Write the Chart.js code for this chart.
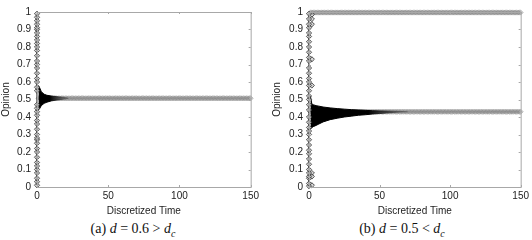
<!DOCTYPE html>
<html>
<head>
<meta charset="utf-8">
<script src="https://cdn.jsdelivr.net/npm/chart.js@4/dist/chart.umd.min.js"></script>
<style>
  body { margin: 0; background: #fff; }
  #wrap { position: relative; width: 532px; height: 240px; overflow: hidden; }
  canvas { position: absolute; top: 0; }
  .cap { position: absolute; top: 221px; width: 266px; text-align: center;
         font-family: "Liberation Serif", "DejaVu Serif", serif; font-size: 14px; line-height: 15px; color: #111; }
  .cap sub { font-size: 10px; font-style: italic; }
</style>
</head>
<body>
<div id="wrap">
  <canvas id="chartA" width="262" height="218" style="left:0"></canvas>
  <canvas id="chartB" width="261" height="218" style="left:271px"></canvas>
  <div class="cap" style="left:0">(a) <i>d</i> = 0.6 &gt; <i>d</i><sub>c</sub></div>
  <div class="cap" style="left:269px">(b) <i>d</i> = 0.5 &lt; <i>d</i><sub>c</sub></div>
</div>
<script>
// time axis 0..150
const times = Array.from({ length: 151 }, (_, i) => i);
const xTicks = [0, 50, 100, 150];
const yTicks = [0, 0.1, 0.2, 0.3, 0.4, 0.5, 0.6, 0.7, 0.8, 0.9, 1];

// (a) d = 0.6 > dc
const leftInit = [0.01, 0.03, 0.05, 0.08, 0.1, 0.12, 0.14, 0.17, 0.2, 0.22, 0.25, 0.27, 0.28, 0.3, 0.33,
  0.36, 0.38, 0.41, 0.43, 0.45, 0.47, 0.55, 0.57, 0.6, 0.62, 0.65, 0.68, 0.7, 0.72, 0.75, 0.78, 0.8,
  0.82, 0.84, 0.86, 0.88, 0.9, 0.91, 0.93, 0.95, 0.97, 0.99];
const leftSteady = 0.507;
const leftBandT = [1, 2, 3, 5, 7, 10, 14, 18, 22];
const leftUpper = [0.58, 0.565, 0.545, 0.53, 0.524, 0.52, 0.516, 0.513, 0.508];
const leftLower = [0.44, 0.45, 0.465, 0.478, 0.485, 0.492, 0.497, 0.501, 0.506];

// (b) d = 0.5 < dc
const rightInit = [0.005, 0.02, 0.05, 0.06, 0.08, 0.1, 0.13, 0.16, 0.19, 0.21, 0.24, 0.27, 0.3, 0.32,
  0.34, 0.37, 0.4, 0.44, 0.47, 0.5, 0.52, 0.55, 0.58, 0.6, 0.62, 0.65, 0.68, 0.72, 0.74, 0.77, 0.8,
  0.83, 0.86, 0.88, 0.91, 0.93, 0.96, 0.99];
const rightStep2 = [0.985, 0.96, 0.93, 0.73, 0.58, 0.08, 0.06, 0.01];
const rightSteady = 0.43;
const rightTop = 0.997;
const rightBandT = [1, 2, 3, 5, 7, 10, 15, 20, 25, 30, 35, 40, 45, 50, 55, 60, 65, 70];
const rightUpper = [0.52, 0.475, 0.47, 0.465, 0.462, 0.457, 0.452, 0.448, 0.445, 0.442, 0.44, 0.438, 0.436, 0.435, 0.434, 0.433, 0.432, 0.43];
const rightLower = [0.33, 0.34, 0.345, 0.352, 0.36, 0.372, 0.385, 0.393, 0.4, 0.405, 0.41, 0.413, 0.417, 0.42, 0.423, 0.426, 0.428, 0.43];

const FONT = "'Liberation Sans', Arial, sans-serif";

// black band fading to grey where the trajectories settle
function fade(start, end) {
  return (c) => {
    const chart = c.chart;
    if (!chart.chartArea || !chart.scales.x) return '#000';
    const x = chart.scales.x;
    const g = chart.ctx.createLinearGradient(x.getPixelForValue(start), 0, x.getPixelForValue(end), 0);
    g.addColorStop(0, 'rgba(0,0,0,1)');
    g.addColorStop(1, 'rgba(70,70,70,0.3)');
    return g;
  };
}

// MATLAB-like box with inward ticks
const boxPlugin = {
  id: 'box',
  afterDraw(chart) {
    const { ctx, chartArea: a, scales } = chart;
    ctx.save();
    ctx.strokeStyle = '#a8a8a8';
    ctx.lineWidth = 1;
    ctx.strokeRect(a.left + 0.5, a.top + 0.5, a.right - a.left, a.bottom - a.top);
    ctx.beginPath();
    yTicks.forEach(v => {
      const y = Math.round(scales.y.getPixelForValue(v)) + 0.5;
      ctx.moveTo(a.left, y); ctx.lineTo(a.left + 2, y);
      ctx.moveTo(a.right, y); ctx.lineTo(a.right - 2, y);
    });
    xTicks.forEach(v => {
      const x = Math.round(scales.x.getPixelForValue(v)) + 0.5;
      ctx.moveTo(x, a.bottom); ctx.lineTo(x, a.bottom - 2);
      ctx.moveTo(x, a.top); ctx.lineTo(x, a.top + 2);
    });
    ctx.stroke();
    ctx.restore();
  }
};

function diamonds(points, order, border, fill) {
  return {
    type: 'scatter', data: points, order,
    pointStyle: 'rectRot', pointRadius: 2.6, pointBorderWidth: 1,
    pointBorderColor: border, pointBackgroundColor: fill,
    showLine: false, clip: false
  };
}

function makeChart(id, cfg) {
  const ds = [];
  // steady clusters
  cfg.steady.forEach(v => {
    ds.push(diamonds(times.filter(t => t >= 1).map(t => ({ x: t, y: v })), 5,
      'rgba(90,90,90,0.3)', 'rgba(140,140,140,0.35)'));
  });
  // oscillating band
  ds.push({
    type: 'line', order: 3,
    data: cfg.bandT.map((t, i) => ({ x: t, y: cfg.upper[i] })),
    borderColor: fade(cfg.fadeFrom, cfg.fadeTo), borderWidth: 1,
    backgroundColor: fade(cfg.fadeFrom, cfg.fadeTo),
    fill: '+1', pointRadius: 0, tension: 0
  });
  ds.push({
    type: 'line', order: 3,
    data: cfg.bandT.map((t, i) => ({ x: t, y: cfg.lower[i] })),
    borderColor: fade(cfg.fadeFrom, cfg.fadeTo), borderWidth: 1,
    fill: false, pointRadius: 0, tension: 0
  });
  // initial opinions at t = 0 with the near vertical trajectory lines
  const init = diamonds(cfg.init.slice().sort((a, b) => a - b).map(v => ({ x: 0, y: v })), 1,
    'rgba(60,60,60,0.85)', 'rgba(190,190,190,0.6)');
  init.showLine = true;
  init.borderColor = '#333';
  init.borderWidth = 1.2;
  ds.push(init);
  if (cfg.step2) {
    ds.push(diamonds(cfg.step2.map(v => ({ x: 2, y: v })), 1, 'rgba(60,60,60,0.85)', 'rgba(190,190,190,0.6)'));
  }

  return new Chart(document.getElementById(id), {
    data: { datasets: ds },
    plugins: [boxPlugin],
    options: {
      responsive: false,
      animation: false,
      layout: { padding: { top: 5, right: cfg.padRight, left: 0, bottom: 0 } },
      plugins: { legend: { display: false }, tooltip: { enabled: false } },
      scales: {
        x: {
          type: 'linear', min: 0, max: 150,
          afterFit: s => { s.height = 31; },
          afterBuildTicks: s => { s.ticks = xTicks.map(v => ({ value: v })); },
          grid: { display: false, drawTicks: false },
          border: { display: false },
          ticks: { padding: 3, color: '#222', font: { family: FONT, size: 10 } },
          title: { display: true, text: 'Discretized Time', color: '#222', padding: { top: 0, bottom: 1 },
                   font: { family: FONT, size: 10 } }
        },
        y: {
          type: 'linear', min: 0, max: 1,
          afterFit: s => { s.width = cfg.yWidth; },
          afterBuildTicks: s => { s.ticks = yTicks.map(v => ({ value: v })); },
          grid: { display: false, drawTicks: false },
          border: { display: false },
          ticks: { padding: 6, color: '#222', font: { family: FONT, size: 10 }, callback: v => String(v) },
          title: { display: true, text: 'Opinion', color: '#222', padding: 0,
                   font: { family: FONT, size: 10 } }
        }
      }
    }
  });
}

makeChart('chartA', {
  init: leftInit, steady: [leftSteady], bandT: leftBandT, upper: leftUpper, lower: leftLower,
  fadeFrom: 9, fadeTo: 22, yWidth: 37, padRight: 10
});
makeChart('chartB', {
  init: rightInit, step2: rightStep2, steady: [rightSteady, rightTop], bandT: rightBandT,
  upper: rightUpper, lower: rightLower, fadeFrom: 42, fadeTo: 70, yWidth: 38, padRight: 8
});
</script>
</body>
</html>
